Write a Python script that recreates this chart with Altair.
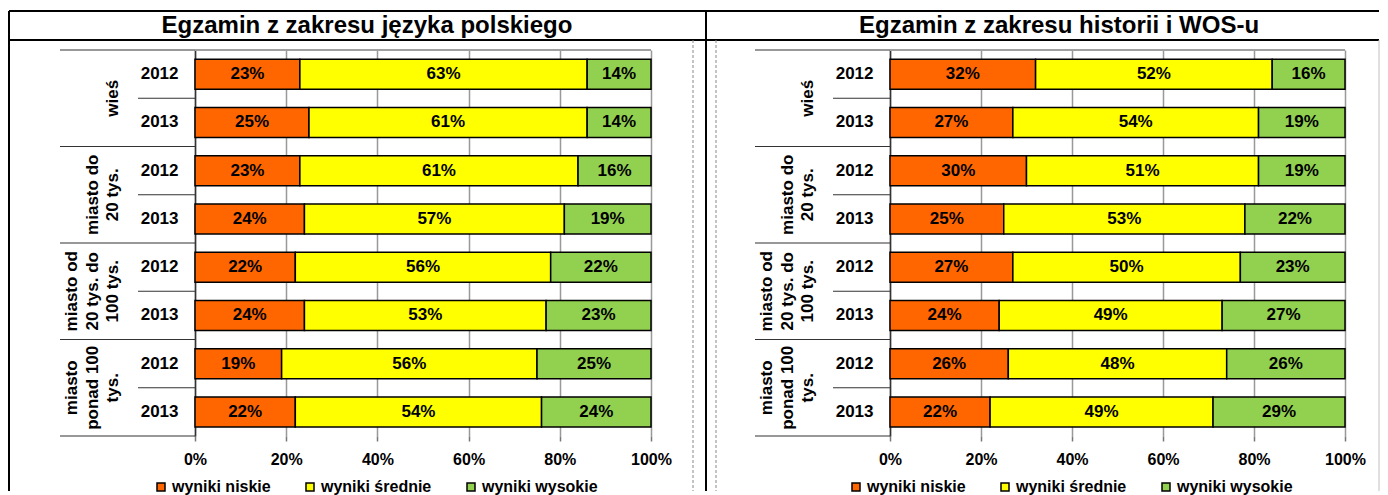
import altair as alt
import pandas as pd

FONT = "Liberation Sans"

# ---------------- data ----------------
categories = ["wieś", "miasto do 20 tys.", "miasto od 20 tys. do 100 tys.", "miasto ponad 100 tys."]
category_lines = [["wieś"], ["miasto do", "20 tys."], ["miasto od", "20 tys. do", "100 tys."], ["miasto", "ponad 100", "tys."]]
years = ["2012", "2013"]
levels = ["wyniki niskie", "wyniki średnie", "wyniki wysokie"]
level_colors = ["#FF6600", "#FFFF00", "#92D050"]

titles = ["Egzamin z zakresu języka polskiego", "Egzamin z zakresu historii i WOS-u"]
x_ticks = [0, 20, 40, 60, 80, 100]

# rows: wieś 2012, wieś 2013, do 20 tys. 2012, 2013, 20-100 tys. 2012, 2013, >100 tys. 2012, 2013
polski_niskie = [23, 25, 23, 24, 22, 24, 19, 22]
polski_srednie = [63, 61, 61, 57, 56, 53, 56, 54]
polski_wysokie = [14, 14, 16, 19, 22, 23, 25, 24]

historia_niskie = [32, 27, 30, 25, 27, 24, 26, 22]
historia_srednie = [52, 54, 51, 53, 50, 49, 48, 49]
historia_wysokie = [16, 19, 19, 22, 23, 27, 26, 29]

keys = [f"{c}|{y}" for c in categories for y in years]


def build_rows(low, mid, high):
    rows = []
    for ci, cat in enumerate(categories):
        for yi, year in enumerate(years):
            i = ci * 2 + yi
            start = 0
            for li, (lvl, v) in enumerate(zip(levels, [low[i], mid[i], high[i]])):
                rows.append(dict(key=f"{cat}|{year}", level=lvl, order=li, value=v,
                                 start=start, end=start + v, mid=start + v / 2, label=f"{v}%"))
                start += v
    return pd.DataFrame(rows)


cat_df = pd.DataFrame({"key": [f"{c}|2012" for c in categories]})
line_rows = []
for c, lines in zip(categories, category_lines):
    n = len(lines)
    for li, txt in enumerate(lines):
        line_rows.append(dict(key=f"{c}|2012", line=txt, from_end=n - 1 - li))
line_df = pd.DataFrame(line_rows)
last_df = pd.DataFrame({"key": [keys[-1]]})
one = pd.DataFrame({"a": [0]})

H = 386

y_scale = alt.Scale(paddingInner=0, paddingOuter=0)
y_axis = alt.Axis(title=None, labelExpr="split(datum.value, '|')[1]", ticks=False, domain=True,
                  domainColor="#333333", domainWidth=1.5, labelPadding=17, labelFont=FONT,
                  labelFontSize=17, labelFontWeight="bold", labelColor="black", grid=False)
x_scale = alt.Scale(domain=[0, 100], nice=False)
x_axis = alt.Axis(title=None, values=x_ticks, labelExpr="datum.value + '%'", domain=False,
                  ticks=True, tickSize=5, tickColor="#777777", tickWidth=1.5, grid=True,
                  gridColor="#999999", gridWidth=1.5, labelFont=FONT, labelFontSize=16,
                  labelFontWeight="bold", labelColor="black", labelPadding=10, labelFlush=False)


def yenc(band=None):
    if band is None:
        return alt.Y("key:N", sort=keys, scale=y_scale, axis=y_axis)
    return alt.Y("key:N", sort=keys, scale=y_scale, axis=y_axis, bandPosition=band)


def hline(x1, x2, y, color="black", width=2, dash=None):
    kw = dict(color=color, strokeWidth=width)
    if dash:
        kw["strokeDash"] = dash
    return alt.Chart(one).mark_rule(**kw).encode(x=alt.value(x1), x2=alt.value(x2), y=alt.value(y))


def vline(x, y1, y2, color="black", width=2, dash=None):
    kw = dict(color=color, strokeWidth=width)
    if dash:
        kw["strokeDash"] = dash
    return alt.Chart(one).mark_rule(**kw).encode(x=alt.value(x), y=alt.value(y1), y2=alt.value(y2))


def panel(title, low, mid, high, width, title_x, frame):
    df = build_rows(low, mid, high)
    legend = alt.Legend(orient="none", legendX=-42, legendY=429, direction="horizontal", title=None,
                        symbolType="square", symbolSize=64, symbolStrokeColor="black",
                        symbolStrokeWidth=1.5, labelFont=FONT, labelFontSize=16,
                        labelFontWeight="bold", labelColor="black", labelOffset=3,
                        columnPadding=31, padding=0)
    bars = alt.Chart(df).mark_bar(size=30, stroke="black", strokeWidth=1.5).encode(
        y=yenc(),
        x=alt.X("start:Q", scale=x_scale, axis=x_axis),
        x2="end:Q",
        color=alt.Color("level:N", scale=alt.Scale(domain=levels, range=level_colors), legend=legend),
        order="order:Q",
    )
    labels = alt.Chart(df).mark_text(font=FONT, fontSize=17, fontWeight="bold", color="black").encode(
        y=yenc(), x=alt.X("mid:Q", scale=x_scale, axis=x_axis), text="label:N")
    top_border = hline(0, width, 0, color="#A0A0A0", width=2)
    cat_sep = alt.Chart(cat_df).mark_rule(color="#333333", strokeWidth=1.2).encode(
        y=yenc(0), x=alt.value(-135), x2=alt.value(0))
    bottom_sep = alt.Chart(last_df).mark_rule(color="#333333", strokeWidth=1.2).encode(
        y=yenc(1), x=alt.value(-135), x2=alt.value(0))
    year_sep = alt.Chart(cat_df).mark_rule(color="#333333", strokeWidth=1.2).encode(
        y=yenc(1), x=alt.value(-57), x2=alt.value(0))
    cat_texts = []
    for k in range(3):
        cat_texts.append(
            alt.Chart(line_df).transform_filter(alt.datum.from_end == k).mark_text(
                font=FONT, fontSize=17, fontWeight="bold", color="black",
                angle=270, align="center", baseline="middle").encode(
                y=yenc(1), x=alt.value(-82 - 20.5 * k), text="line:N")
        )
    title_text = alt.Chart(one).mark_text(font=FONT, fontSize=24, fontWeight="bold", color="black",
                                          align="center", baseline="middle").encode(
        x=alt.value(title_x), y=alt.value(-24), text=alt.value(title))
    layers = [top_border, bars, labels, cat_sep, bottom_sep, year_sep] + cat_texts + [title_text] + frame
    return alt.layer(*layers).properties(width=width, height=H)


frame1 = [
    hline(-186, 511, -39),
    hline(-186, 511, -10),
    vline(-186, -39, 441),
    vline(511, -39, 441),
    vline(498, -10, 441, color="#888888", width=1, dash=[3, 2]),
]
frame2 = [
    hline(-184, 489, -39),
    hline(-184, 489, -10),
    vline(-174, -10, 441, color="#888888", width=1, dash=[3, 2]),
    vline(489, -10, 441, color="#C0C0C0", width=1),
]

p1 = panel(titles[0], polski_niskie, polski_srednie, polski_wysokie, 456, 172, frame1)
p2 = panel(titles[1], historia_niskie, historia_srednie, historia_wysokie, 455, 169, frame2)

chart = alt.hconcat(p1, p2, spacing=239, bounds="flush").resolve_scale(color="independent").properties(
    padding={"left": 0, "top": 2, "right": 0, "bottom": 0}, background="white"
).configure_view(stroke=None)

chart.save("out.html", embed_options={"renderer": "svg", "actions": False})
